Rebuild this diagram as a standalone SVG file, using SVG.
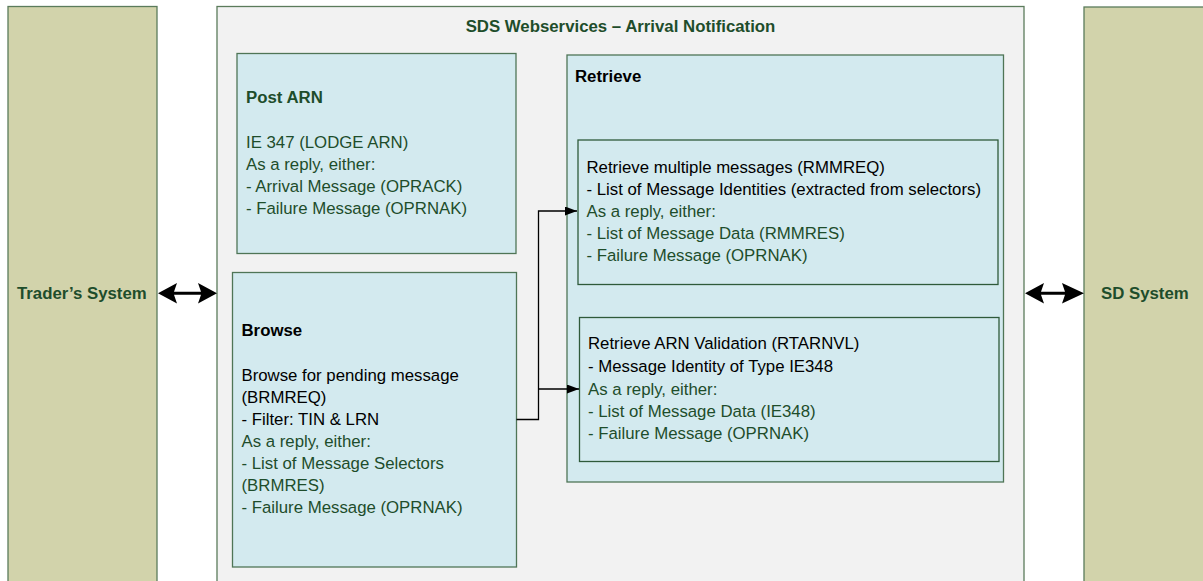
<svg xmlns="http://www.w3.org/2000/svg" width="1203" height="581" viewBox="0 0 1203 581">
<defs>
<style>
.sys{fill:#d2d3ab;stroke:#5b7b5b;stroke-width:1.3}
.cont{fill:#f2f2f2;stroke:#5b7b5b;stroke-width:1.3}
.box{fill:#d3eaef;stroke:#4f7556;stroke-width:1.3}
.inner{fill:#d3eaef;stroke:#2f5a3a;stroke-width:1.3}
text{font-family:"Liberation Sans",Arial,sans-serif;font-size:16.8px}
.b{font-weight:bold}
.g{fill:#1e4d2b}
.k{fill:#000}
.conn{fill:none;stroke:#000;stroke-width:1.3}
</style>
<marker id="ah" markerWidth="12" markerHeight="9" refX="12" refY="4.5" orient="auto" markerUnits="userSpaceOnUse">
<path d="M0,0 L12,4.5 L0,9 Z" fill="#000"/>
</marker>
</defs>
<rect width="1203" height="581" fill="#ffffff"/>
<g id="traders-system">
<rect class="sys" x="8" y="6.5" width="149" height="580"/>
<text class="b g" x="17" y="299">Trader’s System</text>
</g>
<g id="sd-system">
<rect class="sys" x="1084" y="7" width="130" height="580"/>
<text class="b g" x="1101" y="299">SD System</text>
</g>
<g id="container">
<rect class="cont" x="217" y="6.5" width="807" height="580"/>
<text class="b g" x="620.5" y="32" text-anchor="middle">SDS Webservices – Arrival Notification</text>
</g>
<g id="post-arn">
<rect class="box" x="237" y="53.5" width="279" height="200"/>
<text class="b g" x="246" y="103">Post ARN</text>
<text class="g" x="246" y="147.5">IE 347 (LODGE ARN)</text>
<text class="g" x="246" y="169.5">As a reply, either:</text>
<text class="g" x="246" y="191.5">- Arrival Message (OPRACK)</text>
<text class="g" x="246" y="213.5">- Failure Message (OPRNAK)</text>
</g>
<g id="browse">
<rect class="box" x="232.5" y="272.5" width="284" height="294.5"/>
<text class="b k" x="241.5" y="336">Browse</text>
<text class="k" x="241.5" y="381">Browse for pending message</text>
<text class="k" x="241.5" y="403">(BRMREQ)</text>
<text class="k" x="241.5" y="425">- Filter: TIN &amp; LRN</text>
<text class="g" x="241.5" y="447">As a reply, either:</text>
<text class="g" x="241.5" y="469">- List of Message Selectors</text>
<text class="g" x="241.5" y="491">(BRMRES)</text>
<text class="g" x="241.5" y="513">- Failure Message (OPRNAK)</text>
</g>
<g id="retrieve">
<rect class="box" x="567" y="55" width="436.5" height="427"/>
<text class="b k" x="575" y="82">Retrieve</text>
</g>
<g id="rmmreq">
<rect class="inner" x="578" y="140" width="420" height="144.5"/>
<text class="k" x="586.5" y="172.5">Retrieve multiple messages (RMMREQ)</text>
<text class="k" x="586.5" y="194.5">- List of Message Identities (extracted from selectors)</text>
<text class="g" x="586.5" y="216.5">As a reply, either:</text>
<text class="g" x="586.5" y="238.5">- List of Message Data (RMMRES)</text>
<text class="g" x="586.5" y="260.5">- Failure Message (OPRNAK)</text>
</g>
<g id="rtarnvl">
<rect class="inner" x="579.5" y="317.5" width="419.5" height="144"/>
<text class="k" x="588" y="349">Retrieve ARN Validation (RTARNVL)</text>
<text class="k" x="588" y="372">- Message Identity of Type IE348</text>
<text class="g" x="588" y="394.5">As a reply, either:</text>
<text class="g" x="588" y="416.5">- List of Message Data (IE348)</text>
<text class="g" x="588" y="438.5">- Failure Message (OPRNAK)</text>
</g>
<g id="connectors">
<path class="conn" d="M516.5,419.5 H538.5 V211 H577" marker-end="url(#ah)"/>
<path class="conn" d="M538.5,389 H579" marker-end="url(#ah)"/>
<path d="M158,293.3 L177,283 L174,291.8 L201,291.8 L198,283 L217,293.3 L198,303.6 L201,294.8 L174,294.8 L177,303.6 Z" fill="#000"/>
<path d="M1025,293.3 L1044,283 L1041,291.8 L1065,291.8 L1062,283 L1084,293.3 L1062,303.6 L1065,294.8 L1041,294.8 L1044,303.6 Z" fill="#000"/>
</g>
</svg>
